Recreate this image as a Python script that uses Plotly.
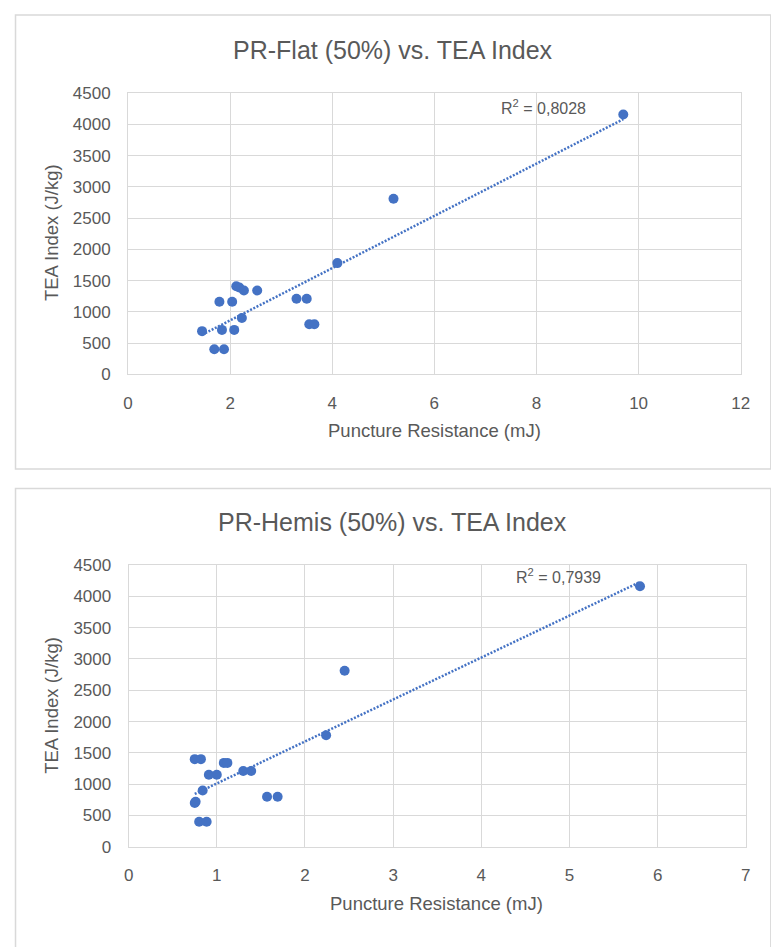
import numpy as np
import plotly.graph_objects as go

# ---- data ----
flat_pr = [1.45, 1.69, 1.88, 1.79, 2.04, 1.84, 2.08, 2.23, 2.12, 2.18, 2.27, 2.53,
           3.30, 3.50, 3.55, 3.65, 4.10, 5.20, 9.70]
flat_tea = [690, 400, 400, 1160, 1160, 710, 710, 900, 1410, 1390, 1340, 1340,
            1210, 1210, 800, 800, 1780, 2810, 4160]

hemis_pr = [0.75, 0.82, 0.91, 1.00, 1.08, 1.12, 1.30, 1.39, 0.84, 0.75, 0.76,
            0.80, 0.885, 1.57, 1.69, 2.24, 2.45, 5.80]
hemis_tea = [1400, 1400, 1150, 1150, 1340, 1340, 1210, 1210, 900, 700, 720,
             400, 400, 800, 800, 1780, 2810, 4160]

titles = ["PR-Flat (50%) vs. TEA Index", "PR-Hemis (50%) vs. TEA Index"]
r2_labels = ["R<sup>2</sup> = 0,8028", "R<sup>2</sup> = 0,7939"]
x_title = "Puncture Resistance (mJ)"
y_title = "TEA Index (J/kg)"
x_ranges = [12, 7]
x_dticks = [2, 1]

W, H = 771, 947
BLUE = "#4472C4"
GRAY = "#595959"
GRID = "#d9d9d9"
FONT = "Liberation Sans, Arial, sans-serif"


def px(x):
    return x / W


def py(y):
    return 1 - y / H


fig = go.Figure()

datasets = [(flat_pr, flat_tea), (hemis_pr, hemis_tea)]
for i, (xs, ys) in enumerate(datasets):
    xa = "x" if i == 0 else "x2"
    ya = "y" if i == 0 else "y2"
    k, b = np.polyfit(xs, ys, 1)
    tx = np.array([min(xs), max(xs)])
    fig.add_trace(go.Scatter(x=tx, y=k * tx + b, mode="lines", xaxis=xa, yaxis=ya,
                             line=dict(color=BLUE, width=2.5, dash="2px,1.6px"),
                             showlegend=False))
    fig.add_trace(go.Scatter(x=xs, y=ys, mode="markers", xaxis=xa, yaxis=ya,
                             marker=dict(color=BLUE, size=10), showlegend=False))

# plot-area geometry (pixels)
areas = [dict(x0=125.3, x1=749.3, y0=86, y1=372.7),
         dict(x0=125.9, x1=754.5, y0=567.3, y1=855)]

common_axis = dict(showgrid=True, gridcolor=GRID, gridwidth=1, zeroline=False,
                   showline=True, linecolor=GRID, linewidth=1, mirror=True,
                   ticks="", tickfont=dict(family=FONT, size=17, color=GRAY),
                   ticklabelstandoff=13, fixedrange=True)

for i, a in enumerate(areas):
    sfx = "" if i == 0 else "2"
    fig.update_layout(**{
        "xaxis" + sfx: dict(common_axis, domain=[px(a["x0"]), px(a["x1"])],
                            range=[0, x_ranges[i]], dtick=x_dticks[i], tick0=0,
                            anchor="y" + sfx),
        "yaxis" + sfx: dict(common_axis, domain=[py(a["y1"]), py(a["y0"])],
                            range=[0, 4500], dtick=500, tick0=0,
                            anchor="x" + sfx),
    })

annotations = []
title_y = [42, 523.3]
xt_y = [430, 912.7]
xt_x = [437, 439]
yt_y = [228.5, 711]
r2_pos = [(548.5, 100), (564, 578.3)]
for i in range(2):
    annotations.append(dict(text=titles[i], x=px(395), y=py(title_y[i]), xref="paper",
                            yref="paper", showarrow=False, xanchor="center", yanchor="middle",
                            font=dict(family=FONT, size=25, color=GRAY)))
    annotations.append(dict(text=x_title, x=px(xt_x[i]), y=py(xt_y[i]), xref="paper",
                            yref="paper", showarrow=False, xanchor="center", yanchor="middle",
                            font=dict(family=FONT, size=18.5, color=GRAY)))
    annotations.append(dict(text=y_title, x=px(48), y=py(yt_y[i]), xref="paper",
                            yref="paper", showarrow=False, xanchor="center", yanchor="middle",
                            textangle=-90, font=dict(family=FONT, size=18.5, color=GRAY)))
    annotations.append(dict(text=r2_labels[i], x=px(r2_pos[i][0]), y=py(r2_pos[i][1]),
                            xref="paper", yref="paper", showarrow=False, xanchor="center",
                            yanchor="middle", font=dict(family=FONT, size=16, color=GRAY)))

shapes = [
    dict(type="rect", xref="paper", yref="paper", x0=px(10.7), x1=px(780),
         y0=py(469.3), y1=py(6), line=dict(color=GRID, width=1.5), layer="below"),
    dict(type="rect", xref="paper", yref="paper", x0=px(10.7), x1=px(780),
         y0=py(960), y1=py(489.3), line=dict(color=GRID, width=1.5), layer="below"),
]

fig.update_layout(width=W, height=H, margin=dict(l=0, r=0, t=0, b=0),
                  paper_bgcolor="white", plot_bgcolor="white",
                  annotations=annotations, shapes=shapes, showlegend=False)

fig.write_html("out.html")
